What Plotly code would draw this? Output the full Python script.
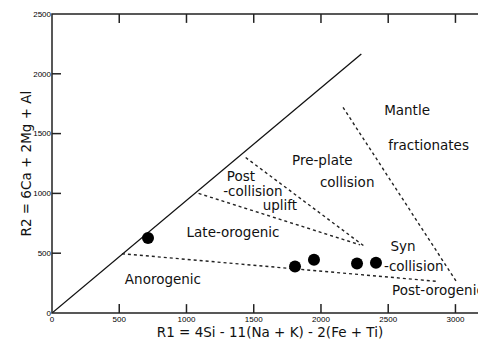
import plotly.graph_objects as go

# Data
sample_r1 = [714, 1807, 1948, 2268, 2409]
sample_r2 = [628, 388, 446, 413, 421]

# Field boundaries (R1, R2)
diag_r1 = [0, 2300]
diag_r2 = [0, 2165]
anoro_r1 = [520, 2870]
anoro_r2 = [496, 264]
late_r1 = [1090, 2290]
late_r2 = [1000, 570]
postcol_r1 = [1440, 2320]
postcol_r2 = [1300, 560]
mantle_r1 = [2164, 3011]
mantle_r2 = [1719, 256]

labels = ["Mantle", "fractionates", "Pre-plate", "collision", "Post", "-collision",
          "uplift", "Late-orogenic", "Syn", "-collision", "Post-orogenic", "Anorogenic"]
label_r1 = [2640, 2800, 2010, 2195, 1405, 1494, 1695, 1346, 2610, 2690, 2870, 825]
label_r2 = [1686, 1388, 1264, 1083, 1132, 1008, 892, 661, 545, 380, 182, 273]

xticks = [0, 500, 1000, 1500, 2000, 2500, 3000]
yticks = [0, 500, 1000, 1500, 2000, 2500]

X_MAX = 3242
Y_MAX = 2500
PLOT_W = 436
PLOT_H = 303
TICK_PX = 9

fig = go.Figure()
fig.add_trace(go.Scatter(x=diag_r1, y=diag_r2, mode="lines",
                         line=dict(color="#111", width=1.3), showlegend=False))
dash = "3px,3px"
for xs, ys in [(anoro_r1, anoro_r2), (late_r1, late_r2), (postcol_r1, postcol_r2), (mantle_r1, mantle_r2)]:
    fig.add_trace(go.Scatter(x=xs, y=ys, mode="lines",
                             line=dict(color="#222", width=1.4, dash=dash), showlegend=False))
fig.add_trace(go.Scatter(x=sample_r1, y=sample_r2, mode="markers",
                         marker=dict(color="#000", size=12), showlegend=False))
fig.add_trace(go.Scatter(x=label_r1, y=label_r2, mode="text", text=labels, cliponaxis=False,
                         textfont=dict(family="DejaVu Sans", size=13.5, color="#111"),
                         showlegend=False))

# inward tick marks on all four sides, derived from the tick arrays
dy = TICK_PX * Y_MAX / PLOT_H
dx = TICK_PX * X_MAX / PLOT_W
tx, ty = [], []
for v in xticks[1:]:
    tx += [v, v, None, v, v, None]
    ty += [0, dy, None, Y_MAX - dy, Y_MAX, None]
for v in yticks[1:-1]:
    tx += [0, dx, None, X_MAX - dx, X_MAX, None]
    ty += [v, v, None, v, v, None]
fig.add_trace(go.Scatter(x=tx, y=ty, mode="lines", line=dict(color="#222", width=1.5),
                         hoverinfo="skip", showlegend=False))

# frame
fig.add_shape(type="rect", xref="paper", yref="paper", x0=0, x1=1, y0=0, y1=1,
              line=dict(color="#222", width=1.5), layer="above")

fig.add_annotation(text="R2 = 6Ca + 2Mg + Al", xref="paper", yref="paper",
                   x=-27 / PLOT_W, y=0.5, textangle=-90, showarrow=False,
                   xanchor="center", yanchor="middle",
                   font=dict(family="DejaVu Sans", size=13.5, color="#111"))

axis_common = dict(ticks="", showline=False, showgrid=False, zeroline=False,
                   ticklabeloverflow="allow",
                   tickfont=dict(family="Liberation Sans Narrow, Arial", size=8, color="#000"))

fig.update_layout(
    width=486, height=348,
    margin=dict(l=44, r=6, t=2, b=43),
    paper_bgcolor="white", plot_bgcolor="white",
    xaxis=dict(range=[0, X_MAX], tickvals=xticks, **axis_common,
               title=dict(text="R1 = 4Si - 11(Na + K) - 2(Fe + Ti)", standoff=4,
                          font=dict(family="DejaVu Sans", size=13.5, color="#111"))),
    yaxis=dict(range=[0, Y_MAX], tickvals=yticks, **axis_common),
)

fig.write_html("out.html")
